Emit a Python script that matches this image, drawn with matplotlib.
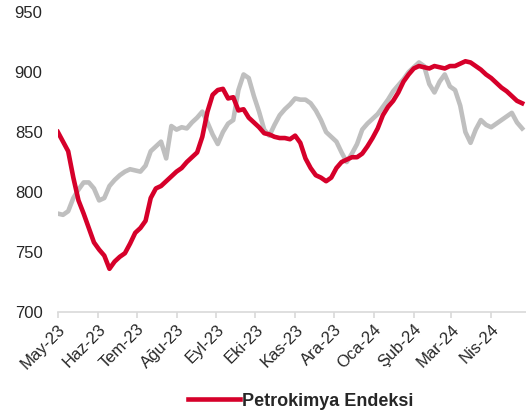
import pandas as pd
import matplotlib.pyplot as plt

# Datos (lectura aproximada del grafico, cada 4 dias)
fechas = pd.date_range('2023-05-01', periods=91, freq='4D')

petrokimya = [850, 842, 834, 812, 793, 782, 770, 758, 752, 747,
              736, 742, 746, 749, 757, 766, 770, 776, 795, 803,
              805, 809, 813, 817, 820, 825, 829, 833, 846, 867,
              881, 885, 886, 878, 879, 868, 869, 862, 858, 854,
              849, 848, 846, 845, 845, 844, 847, 841, 828, 820,
              814, 812, 809, 812, 820, 825, 827, 829, 829, 832,
              838, 845, 853, 864, 871, 876, 883, 892, 898, 903,
              905, 904, 903, 905, 904, 903, 905, 905, 907, 909,
              908, 905, 902, 898, 895, 891, 887, 884, 880, 876,
              874]

diger = [782, 781, 784, 795, 802, 808, 808, 803, 793, 795,
         805, 810, 814, 817, 819, 818, 817, 822, 834, 838,
         842, 828, 855, 852, 854, 853, 858, 862, 867, 858,
         848, 840, 850, 857, 860, 885, 898, 895, 880, 867,
         852, 847, 856, 864, 869, 873, 878, 877, 877, 874,
         868, 860, 850, 846, 842, 833, 825, 832, 840, 852,
         857, 861, 865, 871, 877, 884, 889, 894, 900, 904,
         908, 905, 890, 883, 892, 898, 888, 885, 872, 850,
         841, 852, 860, 856, 854, 857, 860, 863, 866, 858,
         853]

ay_tarihleri = pd.date_range('2023-05-01', periods=12, freq='MS')
ay_etiketleri = ['May-23', 'Haz-23', 'Tem-23', 'Ağu-23', 'Eyl-23', 'Eki-23',
                 'Kas-23', 'Ara-23', 'Oca-24', 'Şub-24', 'Mar-24', 'Nis-24']

plt.rcParams['font.family'] = ['Liberation Sans', 'DejaVu Sans']

fig = plt.figure(figsize=(5.26, 4.16), dpi=100)
ax = fig.add_axes([0.110, 0.250, 0.890, 0.721])

ax.plot(fechas, diger, color='#BFBFBF', lw=3.3, solid_joinstyle='round')
ax.plot(fechas, petrokimya, color='#D6002A', lw=3.3, solid_joinstyle='round',
        label='Petrokimya Endeksi')

ax.set_ylim(700, 950)
ax.set_yticks([700, 750, 800, 850, 900, 950])
ax.set_xlim(fechas[0], fechas[-1] + pd.Timedelta(days=3))
ax.set_xticks(ay_tarihleri)
ax.set_xticklabels(ay_etiketleri, rotation=45, ha='right', rotation_mode='anchor')

for s in ['top', 'right', 'left']:
    ax.spines[s].set_visible(False)
ax.spines['bottom'].set_color('#D9D9D9')
ax.spines['bottom'].set_linewidth(1.2)
ax.tick_params(axis='y', length=0, labelsize=12, pad=11, labelcolor='#262626')
ax.tick_params(axis='x', length=4, width=1.2, colors='#D9D9D9',
               labelsize=12, labelcolor='#262626', pad=3)

leg = fig.legend(loc='center', bbox_to_anchor=(0.571, 0.036), frameon=False,
                 fontsize=13, handlelength=2.9, handletextpad=0.1)
for t in leg.get_texts():
    t.set_fontweight('bold')
    t.set_color('#262626')

plt.savefig('out.png', dpi=100)
